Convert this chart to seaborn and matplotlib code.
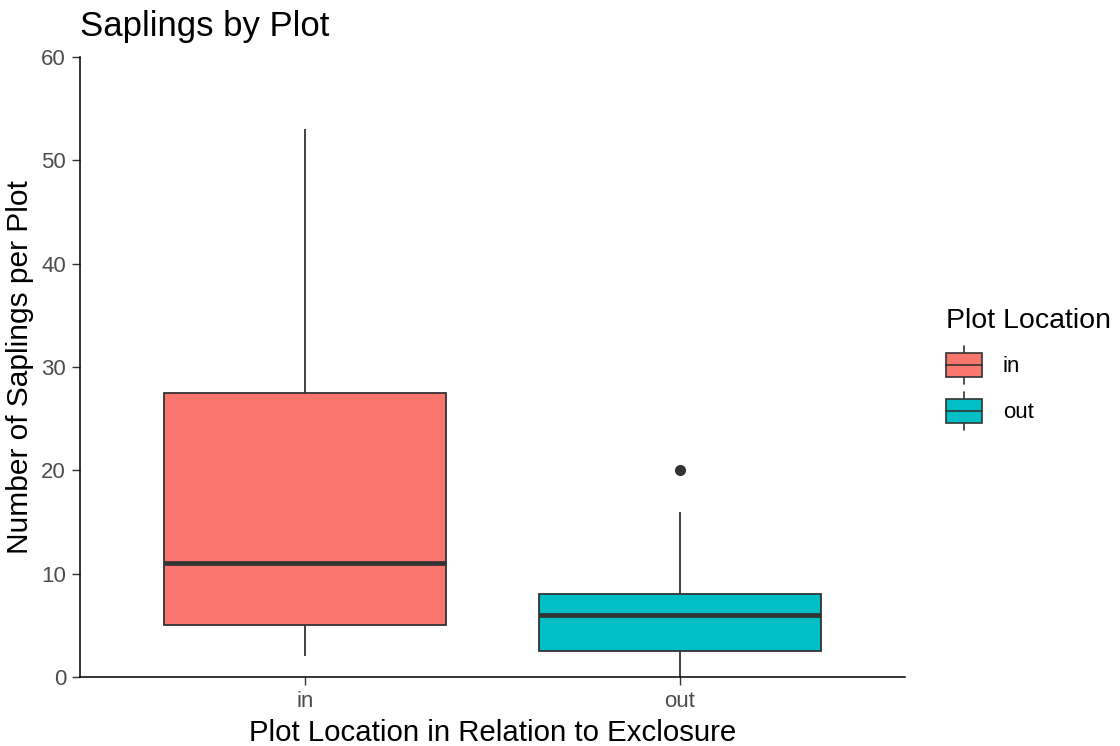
import pandas as pd
import matplotlib
matplotlib.use("Agg")
import matplotlib.pyplot as plt
import seaborn as sns
from matplotlib.patches import Rectangle, Patch
from matplotlib.lines import Line2D
from matplotlib.legend_handler import HandlerBase

# saplings counted per plot, inside / outside the exclosure
saplings_in = [2, 4, 6, 11, 20, 35, 53]
saplings_out = [0, 1, 2, 3, 5, 6, 7, 8, 8, 16, 20]
locations = ["in", "out"]
colors = ["#F8766D", "#00BFC4"]

df = pd.DataFrame({
    "location": ["in"] * len(saplings_in) + ["out"] * len(saplings_out),
    "count": saplings_in + saplings_out,
})

sns.set_style("white")
plt.rcParams["font.family"] = ["Liberation Sans", "DejaVu Sans"]
plt.rcParams["text.color"] = "black"
plt.rcParams["axes.labelcolor"] = "black"

fig = plt.figure(figsize=(11.2, 7.46), dpi=100)
ax = fig.add_axes([80 / 1120, 69 / 746, 825 / 1120, 620 / 746])

dark = "#333333"
sns.boxplot(data=df, x="location", y="count", hue="location", order=locations,
            hue_order=locations, palette=colors, width=0.75, linecolor=dark,
            linewidth=1.3, showcaps=False, legend=False, saturation=1, ax=ax,
            medianprops=dict(color=dark, linewidth=3.4),
            flierprops=dict(marker="o", markerfacecolor=dark, markeredgecolor=dark,
                            markersize=7))

ax.set_xlim(-0.6, 1.6)
ax.set_ylim(0, 60)
ax.set_yticks([0, 10, 20, 30, 40, 50, 60])
for side in ["top", "right"]:
    ax.spines[side].set_visible(False)
for side in ["left", "bottom"]:
    ax.spines[side].set_color("black")
    ax.spines[side].set_linewidth(1.1)
ax.tick_params(axis="both", length=6, width=1.0, color=dark, labelcolor="#4D4D4D",
               labelsize=16, pad=4, bottom=True, left=True)

ax.set_title("Saplings by Plot", loc="left", fontsize=25, pad=15, x=0.0, color="black")
ax.set_xlabel("Plot Location in Relation to Exclosure", fontsize=21.2, labelpad=5)
ax.set_ylabel("Number of Saplings per Plot", fontsize=21.5, labelpad=5)


class BoxKey(HandlerBase):
    # ggplot-like boxplot key: whisker, box and median line
    def create_artists(self, legend, orig, xd, yd, w, h, fs, trans):
        face = orig.get_facecolor()
        x0, y0 = -xd, -yd
        cx = x0 + w / 2
        whisk = Line2D([cx, cx], [y0 - 0.13 * h, y0 + 1.13 * h], color=dark, lw=1.2,
                       transform=trans)
        box = Rectangle((x0, y0 + 0.105 * h), w, h * 0.79, facecolor=face,
                        edgecolor=dark, lw=1.2, transform=trans)
        med = Line2D([x0, x0 + w], [y0 + h / 2] * 2, color=dark, lw=1.2, transform=trans)
        return [whisk, box, med]


handles = [Patch(facecolor=c) for c in colors]
leg = fig.legend(handles, locations, handler_map={Patch: BoxKey()},
                 title="Plot Location", loc="center left",
                 bbox_to_anchor=(926 / 1120, 0.508), frameon=False,
                 fontsize=16, title_fontsize=20.5, handlelength=1.6,
                 handleheight=1.73, labelspacing=0.7, handletextpad=0.95)
leg._legend_box.align = "left"

fig.savefig("out.png", dpi=100)
